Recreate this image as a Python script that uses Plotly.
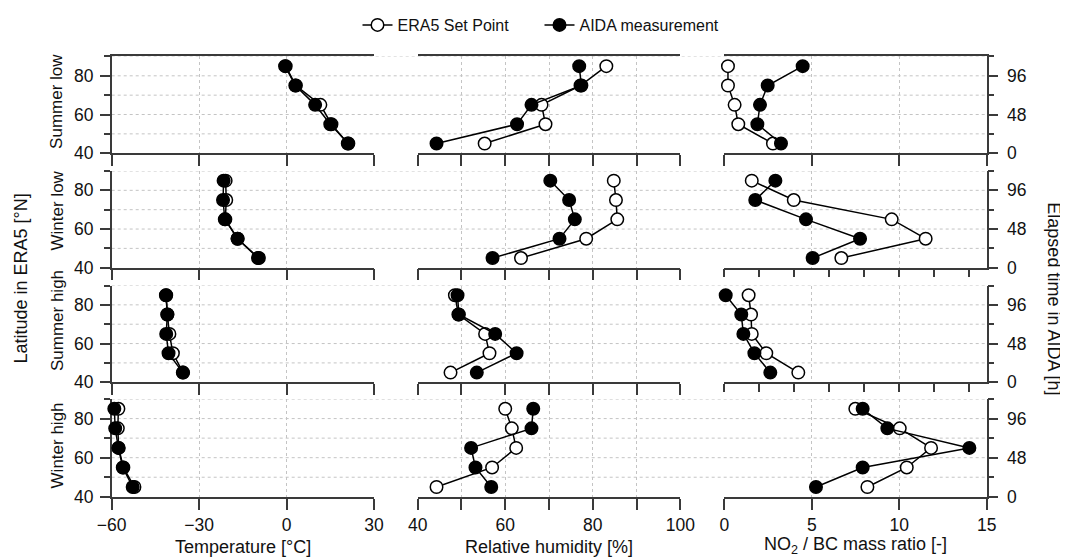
import plotly.graph_objects as go
from plotly.subplots import make_subplots

# data: rows follow scenarios, values follow latitude
scenarios = ["Summer low", "Winter low", "Summer high", "Winter high"]
latitude = [45, 55, 65, 75, 85]
elapsed_ticks = [0, 48, 96]   # h, 2.4 h per degree latitude from 40 N

temp_era5 = [
    [21.0, 15.4, 11.6, 3.2, -0.3],
    [-9.5, -16.8, -21.0, -20.7, -20.9],
    [-35.5, -39.0, -40.2, -40.9, -41.3],
    [-52.2, -56.0, -57.6, -57.9, -57.7],
]
temp_aida = [
    [21.2, 15.0, 9.8, 3.0, -0.5],
    [-9.8, -16.8, -21.2, -21.8, -21.6],
    [-35.6, -40.5, -41.3, -40.9, -41.4],
    [-52.8, -56.2, -57.7, -58.8, -59.1],
]
rh_era5 = [
    [55.3, 69.2, 68.3, 77.2, 83.1],
    [63.6, 78.5, 85.6, 85.3, 84.8],
    [47.5, 56.4, 55.4, 49.3, 48.5],
    [44.3, 57.0, 62.5, 61.5, 60.0],
]
rh_aida = [
    [44.3, 62.7, 66.0, 77.4, 76.9],
    [57.1, 72.4, 75.9, 74.6, 70.3],
    [53.5, 62.6, 57.7, 49.4, 49.1],
    [56.8, 53.2, 52.2, 66.0, 66.4],
]
ratio_era5 = [
    [2.78, 0.80, 0.59, 0.21, 0.21],
    [6.69, 11.51, 9.57, 3.97, 1.57],
    [4.23, 2.40, 1.57, 1.53, 1.39],
    [8.18, 10.43, 11.82, 10.03, 7.49],
]
ratio_aida = [
    [3.24, 1.89, 2.04, 2.48, 4.48],
    [5.05, 7.76, 4.67, 1.77, 2.92],
    [2.63, 1.72, 1.09, 0.97, 0.08],
    [5.24, 7.91, 14.01, 9.32, 7.91],
]

# the page body has an 8px margin, so the figure is placed 8px in
OFF = 8
W, H = 1068 - OFF, 557 - OFF
FONT = "Liberation Sans, Arial, sans-serif"
AXC = "#3a3a3a"
GRIDC = "#c4c4c4"
TXT = "#111"


def px_x(x):
    return (x - OFF) / W


def px_y(y):
    return 1 - (y - OFF) / H


col_px = [(111.7, 374.0), (417.7, 680.3), (724.3, 986.7)]
row_px = [(50, 148), (166, 264), (282, 380), (397, 496)]
col_dom = [[px_x(a), px_x(b)] for a, b in col_px]
row_dom = [[px_y(b), px_y(a)] for a, b in row_px]

fig = make_subplots(rows=4, cols=3)

columns = [(temp_era5, temp_aida), (rh_era5, rh_aida), (ratio_era5, ratio_aida)]
for r in range(4):
    for c in range(3):
        era, aida = columns[c]
        fig.add_trace(go.Scatter(
            x=era[r], y=latitude, mode="lines+markers", name="ERA5 Set Point",
            line=dict(color="black", width=1.5),
            marker=dict(size=12.5, color="white", line=dict(color="black", width=1.5)),
            cliponaxis=False, showlegend=(r == 0 and c == 0), legendrank=1,
        ), row=r + 1, col=c + 1)
        fig.add_trace(go.Scatter(
            x=aida[r], y=latitude, mode="lines+markers", name="AIDA measurement",
            line=dict(color="black", width=1.5),
            marker=dict(size=12.5, color="black", line=dict(color="black", width=1.5)),
            cliponaxis=False, showlegend=(r == 0 and c == 0), legendrank=2,
        ), row=r + 1, col=c + 1)

tickfont = dict(family=FONT, size=17.5, color=TXT)
common_x = dict(showline=True, linecolor=AXC, linewidth=1.5, ticks="outside",
                tickcolor=AXC, tickwidth=1.5, ticklen=11, showgrid=True,
                gridcolor=GRIDC, griddash="dot", gridwidth=1, zeroline=False,
                layer="below traces", automargin=False, tickfont=tickfont)

for r in range(4):
    for c in range(3):
        kw = dict(common_x)
        kw["domain"] = col_dom[c]
        kw["showticklabels"] = (r == 3)
        kw["mirror"] = True if r == 0 else False
        if c == 0:
            kw.update(range=[-60, 30], tickmode="array", tickvals=[-60, -30, 0, 30])
        elif c == 1:
            kw.update(range=[40, 100], tickmode="array", tickvals=[40, 50, 60, 70, 80, 90, 100],
                      ticktext=["40", "", "60", "", "80", "", "100"])
        else:
            if r in (1, 2):
                kw.update(range=[0, 15], tickmode="array", tickvals=[0, 2, 4, 6, 8, 10, 12, 14],
                          showgrid=False, ticklen=8,
                          minor=dict(tickmode="array", tickvals=[5, 10], ticks="", showgrid=True,
                                     gridcolor=GRIDC, griddash="dot", gridwidth=1))
            else:
                kw.update(range=[0, 15], tickmode="array", tickvals=[0, 5, 10, 15])
        fig.update_xaxes(row=r + 1, col=c + 1, **kw)

        ky = dict(domain=row_dom[r], range=[40, 90], showgrid=False, zeroline=False,
                  automargin=False, layer="below traces", tickfont=tickfont)
        if c == 0:
            ky.update(showline=True, linecolor=AXC, linewidth=1.5, ticks="outside",
                      tickcolor=AXC, tickwidth=1.5, ticklen=10, tickmode="array",
                      tickvals=[40, 60, 80], ticklabelstandoff=3,
                      minor=dict(tickmode="array", tickvals=[50, 70, 90], ticks="outside",
                                 ticklen=6, tickcolor=AXC, tickwidth=1.5, showgrid=False))
        elif c == 1:
            ky.update(showline=False, showticklabels=False, ticks="")
        else:
            ky.update(side="right", showline=True, linecolor=AXC, linewidth=1.5,
                      ticks="outside", tickcolor=AXC, tickwidth=1.5, ticklen=10,
                      ticklabelstandoff=5,
                      tickmode="array", tickvals=[40 + h / 2.4 for h in elapsed_ticks],
                      ticktext=[str(h) for h in elapsed_ticks],
                      minor=dict(tickmode="array", tickvals=[50, 70, 90], ticks="outside",
                                 ticklen=6, tickcolor=AXC, tickwidth=1.5, showgrid=False))
        fig.update_yaxes(row=r + 1, col=c + 1, **ky)

# horizontal dotted grid running across all three panels of each row
shapes = []
for r in range(4):
    yref = "y" if r == 0 else "y%d" % (r * 3 + 1)
    for lat in [50, 60, 70, 80, 90]:
        shapes.append(dict(type="line", xref="paper", yref=yref,
                           x0=col_dom[0][0], x1=col_dom[2][1], y0=lat, y1=lat,
                           line=dict(color=GRIDC, width=1, dash="dot"), layer="below"))

annotations = []
row_label_y = [96, 206, 318, 444]
for r in range(4):
    annotations.append(dict(text=scenarios[r], xref="paper", yref="paper",
                            x=px_x(57), y=px_y(row_label_y[r]), textangle=-90,
                            xanchor="center", yanchor="middle", showarrow=False,
                            font=dict(family=FONT, size=17, color=TXT)))
xtitles = ["Temperature [°C]", "Relative humidity [%]", "NO<sub>2</sub> / BC mass ratio [-]"]
for c in range(3):
    annotations.append(dict(text=xtitles[c], xref="paper", yref="paper",
                            x=sum(col_dom[c]) / 2, y=px_y(545 if c == 2 else 547),
                            xanchor="center", yanchor="middle", showarrow=False,
                            font=dict(family=FONT, size=18, color=TXT)))
annotations.append(dict(text="Latitude in ERA5 [°N]", xref="paper", yref="paper",
                        x=px_x(21), y=px_y(275), textangle=-90,
                        xanchor="center", yanchor="middle", showarrow=False,
                        font=dict(family=FONT, size=18, color=TXT)))
annotations.append(dict(text="Elapsed time in AIDA [h]", xref="paper", yref="paper",
                        x=px_x(1054), y=px_y(295), textangle=90,
                        xanchor="center", yanchor="middle", showarrow=False,
                        font=dict(family=FONT, size=18, color=TXT)))

fig.update_layout(
    width=W, height=H,
    margin=dict(l=0, r=0, t=0, b=0),
    plot_bgcolor="white", paper_bgcolor="white",
    shapes=shapes, annotations=annotations,
    legend=dict(orientation="h", x=px_x(539.5), xanchor="center",
                y=px_y(18), yanchor="middle",
                font=dict(family=FONT, size=16, color=TXT), bgcolor="rgba(0,0,0,0)",
                itemwidth=30, entrywidth=137, traceorder="normal"),
)

fig.write_html("out.html")
